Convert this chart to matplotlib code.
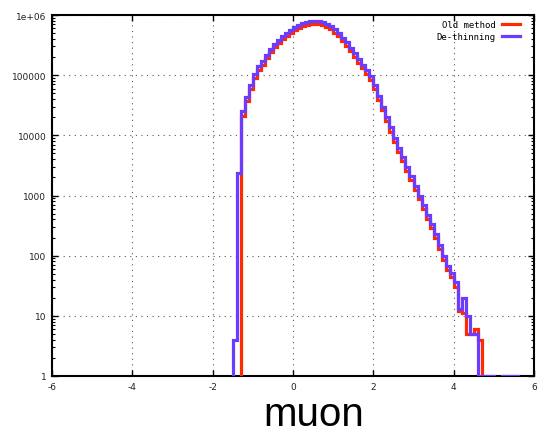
import numpy as np
import matplotlib
matplotlib.use("Agg")
import matplotlib.pyplot as plt
from matplotlib.ticker import FixedLocator, LogLocator, NullFormatter

# ---------------- data ----------------
bin_start = -1.6
bin_width = 0.1

# De-thinning (blue) counts per bin, bins from -1.6 in steps of 0.1
dethin_counts = [
    0, 4, 2400, 25000, 43000, 68000, 105000, 140000, 175000, 220000, 275000,
    330000, 390000, 450000, 510000, 570000, 630000, 680000, 730000, 765000, 790000,
    800000, 790000, 760000, 710000, 650000, 580000, 500000, 420000, 350000, 285000,
    230000, 185000, 150000, 120000, 98000, 68000, 45000, 30000, 20000, 13500,
    9000, 6200, 4300, 3000, 2100, 1450, 1000, 700, 480, 330,
    230, 150, 100, 68, 52, 36, 13, 20, 10, 5,
    5, 1, 1, 1, 1, 0, 0, 1, 1, 1,
    1, 0,
]

# Old method (red) counts per bin, same binning
old_counts = [
    0, 0, 0, 21000, 37000, 58000, 90000, 120000, 150000, 190000, 240000,
    290000, 345000, 400000, 455000, 510000, 560000, 610000, 650000, 680000, 700000,
    705000, 700000, 675000, 630000, 575000, 510000, 440000, 370000, 305000, 250000,
    200000, 160000, 130000, 104000, 84000, 58000, 39000, 26000, 17500, 11500,
    7800, 5300, 3700, 2550, 1800, 1250, 860, 600, 410, 285,
    195, 130, 86, 58, 44, 30, 12, 11, 5, 5,
    6, 4, 0, 0, 0, 0, 0, 0, 0, 0,
    0, 0,
]

series_labels = ["Old method", "De-thinning"]
x_ticks = [-6, -4, -2, 0, 2, 4, 6]
x_ticklabels = ["-6", "-4", "-2", "0", "2", "4", "6"]
y_ticks = [1, 10, 100, 1000, 10000, 100000, 1000000]
y_ticklabels = ["1", "10", "100", "1000", "10000", "100000", "1e+06"]
x_title = "muon"

# ---------------- plot ----------------
W, H = 538, 435
fig = plt.figure(figsize=(W / 100, H / 100), dpi=100)
ax = fig.add_axes([52 / W, 1 - 377 / H, (534 - 52) / W, (377 - 16) / H])

ax.set_yscale("log")
ax.set_xlim(-6, 6)
ax.set_ylim(1, 1e6)

n = len(dethin_counts)
edges = bin_start + bin_width * np.arange(n + 1)

red = "#ff2a00"
blue = "#6a3cff"
ax.stairs(np.array(old_counts, float), edges, color=red, lw=2.3,
          baseline=None, label=series_labels[0], zorder=3)
ax.stairs(np.array(dethin_counts, float), edges, color=blue, lw=2.3,
          baseline=None, label=series_labels[1], zorder=4)

# grid
ax.grid(True, which="major", color="#555555", linestyle=(0, (1, 4)), lw=0.8)
ax.set_axisbelow(True)

# ticks
ax.xaxis.set_major_locator(FixedLocator(x_ticks))
ax.set_xticklabels(x_ticklabels)
ax.yaxis.set_major_locator(FixedLocator(y_ticks))
ax.set_yticklabels(y_ticklabels)
ax.yaxis.set_minor_locator(LogLocator(base=10, subs=np.arange(2, 10)))
ax.yaxis.set_minor_formatter(NullFormatter())
ax.tick_params(which="both", direction="in", top=True, right=True,
               labelsize=6.5, colors="black", pad=4)
ax.tick_params(which="major", length=4, width=1)
ax.tick_params(which="minor", length=2.5, width=0.8)
for lab in ax.get_xticklabels() + ax.get_yticklabels():
    lab.set_fontfamily("DejaVu Sans")
    lab.set_color("#222222")

for s in ax.spines.values():
    s.set_linewidth(1.5)
    s.set_color("black")

leg = ax.legend(loc="upper right", bbox_to_anchor=(0.978, 0.995), frameon=False,
                markerfirst=False,
                prop={"family": "DejaVu Sans Mono", "size": 6.5},
                handlelength=2.0, handletextpad=0.7, labelspacing=0.3,
                borderaxespad=0.0, borderpad=0.35)

fig.text(314 / W, 1 - 426 / H, x_title, ha="center", va="baseline",
         fontsize=29, family="Liberation Sans", color="black")

fig.savefig("out.png", dpi=100)
